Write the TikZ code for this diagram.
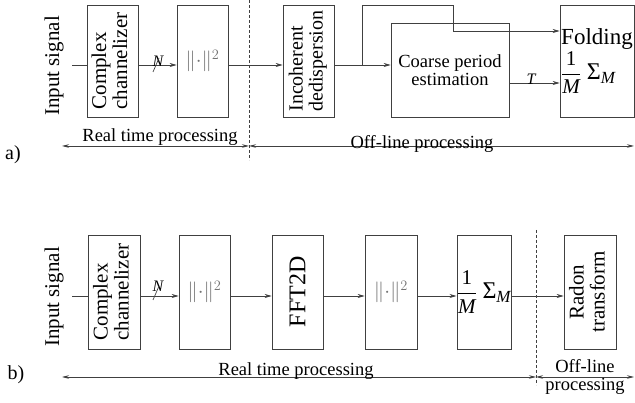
\documentclass[tikz,border=0pt]{standalone}
\usepackage{fontspec}
\setmainfont{Liberation Serif}
\usetikzlibrary{arrows.meta}
\newcommand\fs[1]{\fontsize{#1}{#1}\selectfont}
\newcommand\avgM{$\displaystyle\frac{\mbox{1}}{\mbox{\itshape M}}\;\mbox{\fs{24}Σ}_{\mbox{\fs{17}\itshape M}}$}
\newcommand\sqnorm{$\|{\cdot}\|^2$}

\begin{document}
\begin{tikzpicture}[x=1pt,y=-1pt,
	blk/.style={draw=black!75,line width=0.7pt,inner sep=0pt,minimum width=51pt,minimum height=112pt},
	lbl/.style={font=\fs{18.5}},
	wire/.style={draw=black!75,line width=0.7pt},
	arr/.style={wire,-{Stealth[length=7pt,width=4pt]}},
	spanarr/.style={wire,{Stealth[length=7pt,width=3.5pt]}-{Stealth[length=7pt,width=3.5pt]}},
	divline/.style={draw=black!75,line width=0.7pt,dash pattern=on 3pt off 2pt}]
			%%%%% START %%%%%
			\useasboundingbox (0,0) rectangle (635,403);
			
			% a)
			\node[rotate=90,font=\fs{21}] (sigA) at (54,66) {Input signal};
			\node[blk] (chanA) at (112.5,61) {\rotatebox{90}{\fs{21}\begin{tabular}{@{}l@{}}Complex\\channelizer\end{tabular}}};
			\node[blk,text=black!55,font=\fs{21}] (normA) at (202.5,61) {\sqnorm};
			\node[blk] (dedA) at (308.5,61) {\rotatebox{90}{\fs{20}\begin{tabular}{@{}l@{}}Incoherent\\dedispersion\end{tabular}}};
			\node[blk,minimum width=118pt,minimum height=94pt,align=center,font=\fs{18.5}] (coarseA) at (450,70) {Coarse period\\estimation};
			\node[blk,minimum width=74pt] (foldA) at (597,61) {\begin{tabular}{@{}l@{}}\fs{23}Folding\\[4pt]\fs{21}\avgM\end{tabular}};
			
			\coordinate (inA) at (72,65);
			\coordinate (brA) at (362,65);
			\coordinate (upA) at (453,5);
			\draw[wire] (inA) -- (inA -| chanA.west);
			\draw[arr] (chanA.east |- inA) -- (normA.west |- inA);
			\node[font=\fs{16}\itshape,anchor=base] (nA) at (158,67) {N};
			\draw[wire] ([xshift=-5pt,yshift=-5pt]nA.base) -- ([xshift=1pt,yshift=9pt]nA.base);
			\draw[arr] (normA.east |- inA) -- (dedA.west |- inA);
			\draw[arr] (dedA.east |- inA) -- (coarseA.west |- inA);
			\draw[arr] (brA) |- (upA) |- ([yshift=30pt]foldA.west);
			\draw[arr] ([yshift=-13pt]coarseA.east) -- ([yshift=-13pt]coarseA.east -| foldA.west);
			\node[font=\fs{16}\itshape,anchor=base] (tA) at (531,85) {T};
			
			\draw[divline] (249,0) -- (249,160);
			\coordinate (lA) at (62,146);
			\coordinate (mA) at (249,146);
			\coordinate (rA) at (634,146);
			\draw[spanarr] (lA) -- (mA);
			\draw[spanarr] (mA) -- (rA);
			\node[lbl,anchor=base] (rtA) at (160,142) {Real time processing};
			\node[lbl,anchor=base] (olA) at (422,149) {Off-line processing};
			\node[font=\fs{20}] (capA) at (13,155) {a)};
			
			% b)
			\node[rotate=90,font=\fs{21}] (sigB) at (54,297) {Input signal};
			\node[blk,minimum width=52pt,minimum height=114pt] (chanB) at (114,292) {\rotatebox{90}{\fs{21}\begin{tabular}{@{}l@{}}Complex\\channelizer\end{tabular}}};
			\node[blk,minimum height=114pt,text=black!55,font=\fs{21}] (normB) at (204.5,292) {\sqnorm};
			\node[blk,minimum height=114pt] (fftB) at (297.5,292) {\rotatebox{90}{\fs{24}FFT2D}};
			\node[blk,minimum width=52pt,minimum height=114pt,text=black!55,font=\fs{21}] (normC) at (391,292) {\sqnorm};
			\node[blk,minimum width=52pt,minimum height=114pt] (avgB) at (484,292) {\fs{21}\avgM};
			\node[blk,minimum width=52pt,minimum height=114pt] (radonB) at (590,292) {\rotatebox{90}{\fs{21}\begin{tabular}{@{}c@{}}Radon\\transform\end{tabular}}};
			
			\coordinate (inB) at (72,296);
			\draw[wire] (inB) -- (inB -| chanB.west);
			\draw[arr] (chanB.east |- inB) -- (normB.west |- inB);
			\node[font=\fs{16}\itshape,anchor=base] (nB) at (158,292) {N};
			\draw[wire] ([xshift=-5pt,yshift=-8pt]nB.base) -- ([xshift=1pt,yshift=6pt]nB.base);
			\draw[arr] (normB.east |- inB) -- (fftB.west |- inB);
			\draw[arr] (fftB.east |- inB) -- (normC.west |- inB);
			\draw[arr] (normC.east |- inB) -- (avgB.west |- inB);
			\draw[arr] (avgB.east |- inB) -- (radonB.west |- inB);
			
			\draw[divline] (536,230) -- (536,385);
			\coordinate (lB) at (62,377);
			\coordinate (mB) at (536,377);
			\coordinate (rB) at (634,377);
			\draw[spanarr] (lB) -- (mB);
			\draw[spanarr] (mB) -- (rB);
			\node[lbl,anchor=base] (rtB) at (296,376) {Real time processing};
			\node[lbl,align=center] (olB) at (585,377) {Off-line\\processing};
			\node[font=\fs{20}] (capB) at (16,375) {b)};
			%%%%% END %%%%%
\end{tikzpicture}
\end{document}
